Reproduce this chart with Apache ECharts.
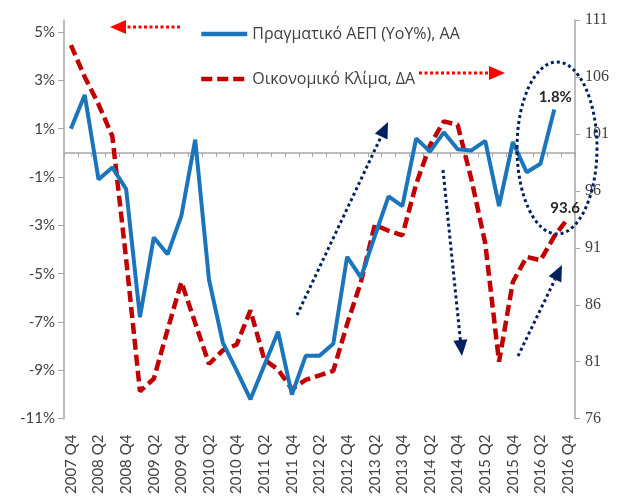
<!DOCTYPE html>
<html>
<head>
<meta charset="utf-8">
<script src="https://cdn.jsdelivr.net/npm/echarts@6/dist/echarts.min.js"></script>
<style>
  html, body { margin: 0; padding: 0; background: #fff; }
  #main { width: 619px; height: 497px; }
</style>
</head>
<body>
<div id="main"></div>
<script>
// quarters on the x axis
var quarters = [
  '2007 Q4',
  '2008 Q1', '2008 Q2', '2008 Q3', '2008 Q4',
  '2009 Q1', '2009 Q2', '2009 Q3', '2009 Q4',
  '2010 Q1', '2010 Q2', '2010 Q3', '2010 Q4',
  '2011 Q1', '2011 Q2', '2011 Q3', '2011 Q4',
  '2012 Q1', '2012 Q2', '2012 Q3', '2012 Q4',
  '2013 Q1', '2013 Q2', '2013 Q3', '2013 Q4',
  '2014 Q1', '2014 Q2', '2014 Q3', '2014 Q4',
  '2015 Q1', '2015 Q2', '2015 Q3', '2015 Q4',
  '2016 Q1', '2016 Q2', '2016 Q3', '2016 Q4'
];

// real GDP, YoY %, left axis (ends 2016 Q3)
var gdp = [
  1.0,
  2.4, -1.1, -0.6, -1.5,
  -6.8, -3.5, -4.2, -2.6,
  0.55, -5.25, -7.85, -9.0,
  -10.2, -8.8, -7.4, -10.0,
  -8.4, -8.4, -7.9, -4.3,
  -5.15, -3.45, -1.8, -2.2,
  0.6, 0.05, 0.85, 0.15,
  0.1, 0.5, -2.2, 0.45,
  -0.8, -0.45, 1.8
];

// economic climate index, right axis
var climate = [
  108.8,
  106.0, 103.6, 100.8, 90.0,
  78.4, 79.5, 83.8, 88.0,
  84.4, 80.8, 82.0, 82.5,
  85.5, 81.2, 80.3, 78.6,
  79.4, 79.8, 80.2, 84.3,
  88.0, 93.0, 92.5, 92.1,
  96.6, 100.0, 102.1, 101.8,
  97.0, 91.4, 81.0, 88.0,
  90.2, 89.9, 92.0, 93.6
];

var leftTicks = [-11, -9, -7, -5, -3, -1, 1, 3, 5];

var gdpName = 'Πραγματικό ΑΕΠ (YoY%), ΑΑ';
var climateName = 'Οικονομικό Κλίμα, ΔΑ';

var axisGray = '#a6a6a6';
var textGray = '#404040';
var navy = '#002060';

// dotted arrow: shaft + triangle head, tip at (x2, y2)
function arrow(x1, y1, x2, y2, color, dash) {
  var L = 16, W = 7;
  var dx = x2 - x1, dy = y2 - y1;
  var len = Math.sqrt(dx * dx + dy * dy);
  var ux = dx / len, uy = dy / len;
  var bx = x2 - ux * L, by = y2 - uy * L;
  return {
    type: 'group',
    z: 100,
    children: [{
      type: 'line',
      shape: { x1: x1, y1: y1, x2: bx, y2: by },
      style: { stroke: color, lineWidth: 3, lineDash: dash }
    }, {
      type: 'polygon',
      shape: {
        points: [[x2, y2], [bx - uy * W, by + ux * W], [bx + uy * W, by - ux * W]]
      },
      style: { fill: color }
    }]
  };
}

// label on the last point of a series
function lastPoint(arr, text, offset) {
  var i = arr.length - 1;
  return {
    symbol: 'circle',
    symbolSize: 0,
    silent: true,
    data: [{
      coord: [quarters[i], arr[i]],
      label: {
        show: true,
        position: 'top',
        distance: 5,
        offset: offset,
        formatter: text,
        fontFamily: 'Lato',
        fontWeight: 'bold',
        fontSize: 15,
        color: '#262626'
      }
    }]
  };
}

var chart = echarts.init(document.getElementById('main'), null, { renderer: 'canvas' });

var option = {
  animation: false,
  backgroundColor: '#fff',
  grid: { left: 64, right: 44, top: 20, bottom: 75 },
  legend: {
    orient: 'vertical',
    left: 194,
    top: 21,
    itemWidth: 46,
    itemHeight: 14,
    itemGap: 29,
    selectedMode: false,
    itemStyle: { opacity: 0 },
    lineStyle: { width: 4.5 },
    textStyle: { fontFamily: 'Open Sans', fontSize: 16, color: textGray },
    data: [gdpName, climateName]
  },
  xAxis: [{
    type: 'category',
    data: quarters,
    position: 'bottom',
    boundaryGap: true,
    axisLine: { show: false, onZero: false },
    axisTick: { show: false },
    axisLabel: {
      interval: 1,
      rotate: 90,
      margin: 16,
      fontFamily: 'Lato',
      fontSize: 15,
      color: textGray
    }
  }, {
    type: 'category',
    data: quarters,
    position: 'bottom',
    boundaryGap: true,
    axisLine: { show: true, onZero: true, onZeroAxisIndex: 0, lineStyle: { color: axisGray, width: 1.5 } },
    axisTick: { show: true, interval: 0, length: 4, lineStyle: { color: axisGray } },
    axisLabel: { show: false }
  }],
  yAxis: [{
    type: 'value',
    position: 'left',
    min: -11,
    max: 5.5,
    interval: 2,
    splitLine: { show: false },
    axisLine: { show: true, lineStyle: { color: axisGray, width: 1.5 } },
    axisTick: { show: true, length: 6, customValues: leftTicks, lineStyle: { color: axisGray } },
    axisLabel: {
      customValues: leftTicks,
      margin: 9,
      fontFamily: 'Lato',
      fontSize: 15,
      color: textGray,
      formatter: function(v) { return leftTicks.indexOf(v) < 0 ? '' : v + '%'; }
    }
  }, {
    type: 'value',
    position: 'right',
    min: 76,
    max: 111,
    interval: 5,
    splitLine: { show: false },
    axisLine: { show: true, lineStyle: { color: axisGray, width: 1.5 } },
    axisTick: { show: true, length: 5, lineStyle: { color: axisGray } },
    axisLabel: {
      margin: 10,
      fontFamily: 'Liberation Serif',
      fontSize: 16,
      color: textGray
    }
  }],
  series: [{
    name: climateName,
    type: 'line',
    yAxisIndex: 1,
    symbol: 'none',
    lineStyle: { color: '#c00000', width: 4.5, type: [11, 5] },
    itemStyle: { color: '#c00000' },
    data: climate,
    markPoint: lastPoint(climate, '93.6', [-3, 2])
  }, {
    name: gdpName,
    type: 'line',
    yAxisIndex: 0,
    symbol: 'none',
    lineStyle: { color: '#1b75bc', width: 4 },
    itemStyle: { color: '#1b75bc' },
    data: gdp,
    markPoint: lastPoint(gdp, '1.8%', [1, 0])
  }],
  graphic: [
    arrow(180, 27, 110, 27, '#ff0000', [3, 2.5]),
    arrow(419, 73, 505, 73, '#ff0000', [3, 2.5]),
    arrow(297, 315, 388, 122, navy, [3, 3]),
    arrow(443, 170, 462, 356, navy, [3, 3]),
    arrow(518, 356, 562, 265, navy, [3, 3]),
    {
      type: 'ellipse',
      z: 100,
      shape: { cx: 557, cy: 148, rx: 40, ry: 86 },
      style: { fill: null, stroke: navy, lineWidth: 3, lineDash: [3, 3] }
    }
  ]
};

chart.setOption(option);
</script>
</body>
</html>
